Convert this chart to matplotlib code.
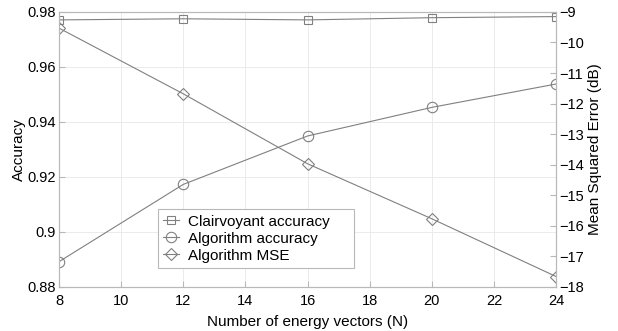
import numpy as np
import matplotlib.pyplot as plt

plt.rcParams['font.family'] = ['Liberation Sans', 'DejaVu Sans']

# datos
N = [8, 12, 16, 20, 24]
clair_acc = [0.9771, 0.9775, 0.9771, 0.9779, 0.9783]
algo_acc = [0.8892, 0.9173, 0.9349, 0.9453, 0.9538]
algo_mse = [-9.53, -11.68, -13.97, -15.77, -17.66]
etiquetas = ['Clairvoyant accuracy', 'Algorithm accuracy', 'Algorithm MSE']

gris = '#808080'
ejes = '#b8b8b8'

fig = plt.figure(figsize=(6.18, 3.31), dpi=100)
ax = fig.add_axes([0.0955, 0.133, 0.8045, 0.831])
ax2 = ax.twinx()

l1, = ax.plot(N, clair_acc, color=gris, lw=0.8, marker='s', ms=6, mfc='none', mec=gris, mew=0.8)
l2, = ax.plot(N, algo_acc, color=gris, lw=0.8, marker='o', ms=7.5, mfc='none', mec=gris, mew=0.8)
l3, = ax2.plot(N, algo_mse, color=gris, lw=0.8, marker='D', ms=6.5, mfc='none', mec=gris, mew=0.8)

ax.set_xlim(8, 24)
ax.set_ylim(0.88, 0.98)
ax.set_xticks(np.arange(8, 25, 2))
ax.set_yticks([0.88, 0.9, 0.92, 0.94, 0.96, 0.98])
ax.set_yticklabels(['0.88', '0.9', '0.92', '0.94', '0.96', '0.98'])
ax2.set_ylim(-18, -9)
ax2.set_yticks(np.arange(-18, -8, 1))

ax.grid(True, color='#ebebeb', lw=0.7)
ax.set_axisbelow(True)

for a in (ax, ax2):
    for s in a.spines.values():
        s.set_color(ejes)
        s.set_linewidth(0.8)
    a.tick_params(direction='in', color=ejes, labelsize=10.5, length=4, pad=2)
ax.tick_params(axis='x', pad=5)

ax.set_xlabel('Number of energy vectors (N)', fontsize=11, labelpad=5)
ax.set_ylabel('Accuracy', fontsize=11, labelpad=1)
ax2.set_ylabel('Mean Squared Error (dB)', fontsize=11, labelpad=3)

leg = ax.legend([l1, l2, l3], etiquetas,
                loc='lower left', bbox_to_anchor=(0.199, 0.069, 0.394, 0.2), mode='expand',
                borderaxespad=0, fontsize=11, frameon=True, fancybox=False,
                edgecolor=ejes, framealpha=1, handlelength=1.0, handletextpad=0.6,
                borderpad=0.35, labelspacing=0.2)
leg.get_frame().set_linewidth(0.8)

fig.savefig('out.png', dpi=100)
